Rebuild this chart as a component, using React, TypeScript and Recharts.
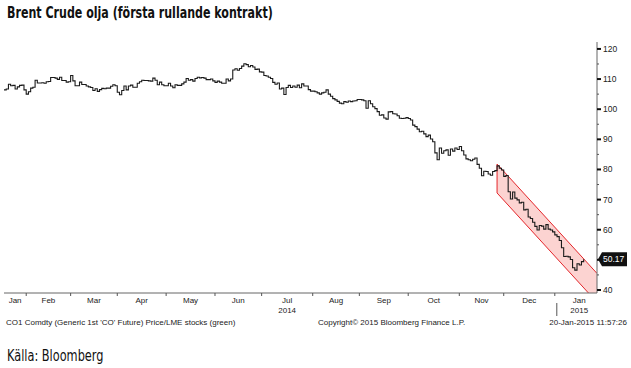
import React from "react";
import { ComposedChart, Line, Area, XAxis, YAxis, ReferenceLine } from "recharts";

// Daily closes of Brent front-month (trading days)
const jan14 = [106.4, 106.7, 108.3, 107.8, 107.9, 106.7, 107.4, 107.9, 108.0, 106.4];
const feb14 = [105.0, 105.8, 107.0, 107.3, 109.6, 108.7, 108.7, 108.8, 108.6, 109.1, 109.2, 110.5, 110.5, 110.3, 109.9, 110.6, 109.5, 109.5, 109.0, 109.1];
const mar14 = [111.2, 109.4, 107.8, 107.8, 109.0, 108.2, 108.2, 107.7, 107.4, 107.2, 106.2, 106.8, 105.9, 106.5, 106.9, 106.8, 107.0, 107.0, 107.6, 108.1, 107.8];
const apr14 = [105.6, 104.8, 106.2, 107.7, 106.4, 107.7, 108.0, 107.3, 107.3, 108.6, 109.1, 109.6, 109.5, 109.5, 109.4, 109.3, 110.3, 109.6, 108.1, 109.0, 108.1, 107.8];
const may14 = [107.8, 108.6, 107.7, 107.1, 108.1, 107.9, 107.9, 108.4, 109.0, 110.2, 109.6, 109.8, 109.3, 110.2, 110.6, 110.4, 110.5, 110.3, 109.8, 109.8, 110.0, 109.4];
const jun14 = [108.9, 109.3, 109.0, 108.6, 108.6, 110.0, 109.4, 110.0, 113.0, 113.4, 112.9, 113.5, 114.3, 115.1, 114.8, 114.1, 114.5, 114.0, 113.2, 113.3, 112.4];
const jul14 = [112.3, 111.2, 111.0, 110.6, 110.2, 108.9, 108.3, 108.7, 106.7, 107.0, 104.9, 107.2, 107.9, 107.2, 107.7, 107.3, 108.0, 107.1, 108.4, 107.7, 107.7, 106.5, 106.0];
const aug14 = [106.0, 105.8, 105.4, 105.0, 105.4, 105.6, 106.4, 105.0, 104.3, 103.5, 103.1, 102.6, 102.0, 101.8, 102.5, 102.3, 102.7, 102.5, 102.7, 102.8, 103.2];
const sep14 = [103.2, 103.1, 102.8, 100.3, 102.8, 101.8, 100.8, 100.2, 99.2, 98.0, 98.1, 97.1, 96.7, 99.1, 99.2, 98.5, 98.4, 97.8, 97.0, 96.9, 97.0, 97.2];
const oct14 = [96.9, 96.4, 94.7, 94.2, 93.4, 92.5, 92.7, 91.8, 90.9, 91.4, 90.1, 89.2, 85.5, 83.2, 87.1, 85.4, 86.2, 86.5, 84.7, 86.8, 86.1, 87.1, 86.6];
const nov14 = [87.6, 86.2, 84.8, 83.5, 83.2, 82.9, 83.4, 83.8, 81.7, 80.4, 77.9, 79.4, 79.3, 78.5, 78.1, 79.3, 79.6, 81.2, 80.4, 79.8];
const dec14 = [77.7, 78.0, 72.6, 70.2, 72.5, 70.5, 69.9, 68.9, 69.1, 66.6, 66.8, 64.2, 63.7, 62.5, 61.1, 59.9, 61.4, 61.2, 60.2, 61.7, 60.2, 59.9, 59.3];
const jan15 = [58.3, 57.7, 56.4, 54.0, 51.1, 51.2, 51.0, 50.1, 47.4, 46.6, 48.7, 48.3, 49.4, 50.17];

const closes = [...jan14, ...feb14, ...mar14, ...apr14, ...may14, ...jun14, ...jul14, ...aug14, ...sep14, ...oct14, ...nov14, ...dec14, ...jan15];
const lastPrice = 50.17;

// Month boundaries (trading-day index), including range edges
const monthEdges = [0, 10, 30, 51, 73, 95, 116, 139, 160, 182, 205, 225, 248, 270];
const monthLabels = ["Jan", "Feb", "Mar", "Apr", "May", "Jun", "Jul", "Aug", "Sep", "Oct", "Nov", "Dec", "Jan"];
const yearLabels: Record<number, string> = { 6: "2014", 12: "2015" };
const yearBoundary = 248;
const xMax = 267;

// Red trend channel
const channelX = [222, 267];
const channelHigh = [81.8, 45.5];
const channelLow = [72.2, 35.9];

const yMajor = [40, 50, 60, 70, 80, 90, 100, 110, 120];
const yMinor = [45, 55, 65, 75, 85, 95, 105, 115];

const boundaries = monthEdges.slice(1, -1);
const midpoints = monthLabels.map((_, k) => (monthEdges[k] + monthEdges[k + 1]) / 2);

const rows: any[] = [];
for (let i = 0; i <= xMax; i++) {
  const c = channelX.indexOf(i);
  rows.push({
    i,
    close: i < closes.length ? closes[i] : null,
    band: c >= 0 ? [channelLow[c], channelHigh[c]] : null,
  });
}

const axisFont = "'Liberation Sans', Arial, sans-serif";
const titleFont = "'Liberation Sans Narrow', 'DejaVu Sans Condensed', 'Liberation Sans', sans-serif";

const XTick = (props: any) => {
  const { x, y, payload } = props;
  const v = payload.value;
  if (boundaries.includes(v)) {
    return (
      <g>
        <line x1={x} x2={x} y1={y} y2={y + 3} stroke="#555" />
        {v === yearBoundary && <line x1={x + 2} x2={x + 2} y1={y + 10} y2={y + 23} stroke="#555" />}
      </g>
    );
  }
  const mi = midpoints.indexOf(v);
  if (mi < 0) return null;
  return (
    <g fontFamily={axisFont} fontSize={8} fill="#222">
      <text x={x} y={y + 10} textAnchor="middle">{monthLabels[mi]}</text>
      {yearLabels[mi] && (
        <text x={x} y={y + 20} textAnchor="middle">{yearLabels[mi]}</text>
      )}
    </g>
  );
};

const YTick = (props: any) => {
  const { x, y, payload } = props;
  const v = payload.value;
  if (v === lastPrice) {
    return (
      <g>
        <polygon
          points={`${x + 1},${y} ${x + 5},${y - 7} ${x + 30},${y - 7} ${x + 30},${y + 7} ${x + 5},${y + 7}`}
          fill="#111"
        />
        <text x={x + 6} y={y + 3} fontFamily={axisFont} fontSize={8.5} fill="#fff">
          {lastPrice.toFixed(2)}
        </text>
      </g>
    );
  }
  if (yMajor.includes(v)) {
    return (
      <g>
        <line x1={x} x2={x + 4} y1={y} y2={y} stroke="#111" strokeWidth={2} />
        {v !== 50 && (
          <text x={x + 6} y={y + 3} fontFamily={axisFont} fontSize={8.5} fill="#222">
            {v}
          </text>
        )}
      </g>
    );
  }
  return <line x1={x} x2={x + 2} y1={y} y2={y} stroke="#555" />;
};

export default function App() {
  return (
    <div style={{ position: "absolute", left: 0, top: 0, width: 631, height: 368, background: "#fff", overflow: "hidden" }}>
      <div style={{ position: "absolute", left: 7, top: 3, fontFamily: titleFont, fontWeight: 700, fontSize: 15, lineHeight: "20px", color: "#111", whiteSpace: "nowrap", transform: "scaleX(0.82)", transformOrigin: "0 0" }}>
        Brent Crude olja (första rullande kontrakt)
      </div>
      <div style={{ position: "absolute", left: 0, top: 0 }}>
        <ComposedChart width={631} height={330} data={rows} margin={{ top: 42, right: 0, bottom: 0, left: 4 }}>
          <XAxis
            dataKey="i"
            type="number"
            domain={[0, xMax]}
            ticks={[...boundaries, ...midpoints]}
            interval={0}
            tick={<XTick />}
            tickLine={false}
            tickSize={0}
            tickMargin={0}
            height={37}
            axisLine={{ stroke: "#666" }}
            allowDataOverflow
          />
          <YAxis
            orientation="right"
            type="number"
            domain={[39, 122.3]}
            ticks={[...yMinor, ...yMajor, lastPrice]}
            interval={0}
            tick={<YTick />}
            tickLine={false}
            tickSize={0}
            tickMargin={0}
            width={34}
            axisLine={{ stroke: "#666" }}
            allowDataOverflow
          />
          <Area
            dataKey="band"
            type="linear"
            fill="#fcd3d1"
            fillOpacity={1}
            stroke="#e3262b"
            strokeWidth={1}
            connectNulls
            dot={false}
            activeDot={false}
            isAnimationActive={false}
          />
          <ReferenceLine
            segment={[{ x: channelX[0], y: channelLow[0] }, { x: channelX[0], y: channelHigh[0] }]}
            stroke="#e3262b"
          />
          <Line
            dataKey="close"
            type="stepAfter"
            stroke="#1a1a1a"
            strokeWidth={1.1}
            dot={false}
            activeDot={false}
            isAnimationActive={false}
          />
        </ComposedChart>
      </div>
      <svg width={631} height={368} style={{ position: "absolute", left: 0, top: 0, pointerEvents: "none" }}>
        <g fontFamily={axisFont} fontSize={8} fill="#222">
          <text x={6} y={325}>CO1 Comdty (Generic 1st 'CO' Future) Price/LME stocks (green)</text>
          <text x={318} y={325}>Copyright© 2015 Bloomberg Finance L.P.</text>
          <text x={627} y={325} textAnchor="end">20-Jan-2015 11:57:26</text>
        </g>
      </svg>
      <div style={{ position: "absolute", left: 7, top: 346, fontFamily: titleFont, fontSize: 15, lineHeight: "20px", color: "#111", whiteSpace: "nowrap", transform: "scaleX(0.84)", transformOrigin: "0 0" }}>
        Källa: Bloomberg
      </div>
    </div>
  );
}
